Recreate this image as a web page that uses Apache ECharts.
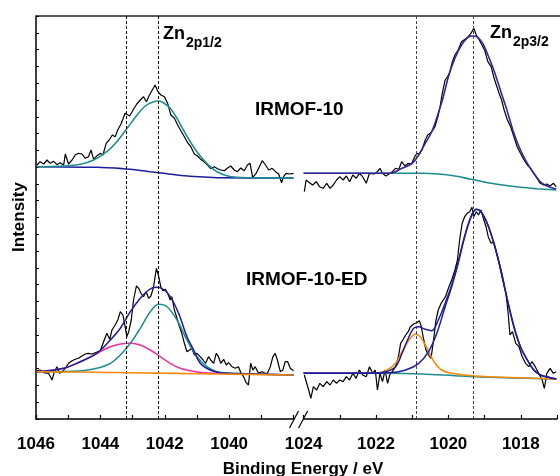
<!DOCTYPE html>
<html><head><meta charset="utf-8">
<script src="https://cdn.jsdelivr.net/npm/echarts@6/dist/echarts.min.js"></script>
<style>html,body{margin:0;padding:0;background:#fff;overflow:hidden}#c{width:560px;height:476px}</style>
</head><body><div id="c"></div>
<script>
// ---------- DATA (binding energy eV, intensity a.u.) ----------
const leftTickLabels = [1046, 1044, 1042, 1040];
const rightTickLabels = [1024, 1022, 1020, 1018];
const peakLinesLeft = [1043.2, 1042.2];
const peakLinesRight = [1020.9, 1019.3];

// IRMOF-10, Zn 2p1/2 region
const topLeftRaw = [[1045.97,254],[1045.87,257.3],[1045.76,255],[1045.66,259],[1045.56,255.7],[1045.45,257.7],[1045.35,254.3],[1045.25,256.3],[1045.14,254],[1045.09,265],[1044.99,255],[1044.88,259],[1044.78,264],[1044.68,265.7],[1044.57,265],[1044.47,260.7],[1044.37,262.3],[1044.29,269],[1044.21,259.7],[1044.11,263],[1044.0,265.7],[1043.92,264],[1043.82,275.7],[1043.71,279.7],[1043.63,284],[1043.54,282.3],[1043.46,289],[1043.36,295],[1043.23,305.7],[1043.09,303],[1042.97,309.7],[1042.87,315],[1042.76,319],[1042.66,322.3],[1042.57,317.3],[1042.49,323],[1042.40,328.3],[1042.30,334],[1042.21,327.3],[1042.12,324],[1042.01,322.3],[1041.91,315.7],[1041.81,304],[1041.70,300.7],[1041.60,294],[1041.50,288.3],[1041.39,282.3],[1041.29,276.3],[1041.19,272.3],[1041.08,265],[1040.98,263],[1040.88,259.7],[1040.77,257],[1040.67,254],[1040.57,250.3],[1040.46,252.3],[1040.36,250.3],[1040.26,249],[1040.15,248.3],[1040.05,251],[1039.95,253],[1039.84,249],[1039.74,247.3],[1039.64,251],[1039.53,248.3],[1039.43,254],[1039.35,255.7],[1039.27,241.7],[1039.16,245.7],[1039.06,252.3],[1038.97,258.3],[1038.87,254],[1038.77,249],[1038.66,250.7],[1038.56,247.3],[1038.46,245],[1038.37,236.3],[1038.31,242.3],[1038.23,245.7],[1038.12,245],[1038.0,245.7]];
const topLeftBg = [[1045.97,252.3],[1044.11,251.7],[1043.28,250.3],[1042.86,249],[1042.45,247.3],[1042.04,245.7],[1041.62,244],[1041.21,242.7],[1040.79,242],[1040.38,241.3],[1038.0,241]];
const topLeftFit = [[1045.97,252.3],[1045.14,253],[1044.62,254.7],[1044.21,259],[1043.80,267.3],[1043.49,277.3],[1043.17,290.7],[1042.86,304],[1042.61,313],[1042.35,317.3],[1042.19,318],[1042.04,316.3],[1041.83,310.7],[1041.62,300.7],[1041.42,289],[1041.21,277.3],[1041.0,267.3],[1040.79,259],[1040.59,252.3],[1040.38,247.3],[1040.07,243.3],[1039.76,241.7],[1039.35,241.3],[1038.0,241]];

// IRMOF-10, Zn 2p3/2 region
const topRightRaw = [[1023.98,227.3],[1023.93,239],[1023.84,236.3],[1023.75,234],[1023.65,237.3],[1023.56,232.3],[1023.46,230.7],[1023.36,235.7],[1023.27,230.7],[1023.18,234],[1023.09,239],[1023.0,242.3],[1022.91,239],[1022.82,243],[1022.73,237.3],[1022.64,244],[1022.55,240.7],[1022.46,245.7],[1022.37,242.3],[1022.27,235.7],[1022.18,245.7],[1022.05,245],[1021.96,247.3],[1021.89,250.7],[1021.82,245.7],[1021.73,243],[1021.64,245],[1021.55,247.3],[1021.46,250.7],[1021.37,249.7],[1021.29,257.3],[1021.20,253],[1021.11,255.7],[1021.02,255],[1020.93,262.3],[1020.87,265.7],[1020.80,265],[1020.73,269],[1020.64,279],[1020.57,284],[1020.50,285.7],[1020.44,288.3],[1020.37,292.3],[1020.29,302.3],[1020.23,312.3],[1020.17,325.7],[1020.09,339],[1020.02,342.3],[1019.96,347.3],[1019.89,357.3],[1019.82,364],[1019.73,369],[1019.64,377.3],[1019.57,379],[1019.50,380.7],[1019.41,384],[1019.35,387.3],[1019.30,390.7],[1019.23,384],[1019.17,380.7],[1019.10,375.7],[1019.0,369],[1018.91,357.3],[1018.82,352.3],[1018.75,342.3],[1018.66,332.3],[1018.60,325.7],[1018.53,319],[1018.46,309],[1018.37,299],[1018.28,292.3],[1018.19,282.3],[1018.10,272.3],[1018.01,265.7],[1017.91,259],[1017.82,254],[1017.73,250.7],[1017.64,245.7],[1017.55,240.7],[1017.46,235.7],[1017.37,234],[1017.28,235],[1017.19,233],[1017.10,235.7],[1017.02,232.3]];
const topRightBg = [[1024.0,245.7],[1020.73,245.7],[1020.28,245],[1019.82,243],[1019.37,239.7],[1018.91,236.3],[1018.46,233.7],[1018.01,231.7],[1017.55,230.3],[1017.02,229]];
const topRightFit = [[1024.0,245.7],[1021.64,245.7],[1021.28,250.7],[1021.0,255.7],[1020.82,264],[1020.64,275.7],[1020.46,287.3],[1020.28,305.7],[1020.14,322.3],[1020.0,342.3],[1019.82,360.7],[1019.64,374],[1019.46,381.7],[1019.32,383],[1019.19,381.7],[1019.05,375.7],[1018.91,364],[1018.73,347.3],[1018.55,327.3],[1018.37,307.3],[1018.19,285.7],[1018.01,269],[1017.82,255.7],[1017.64,245.7],[1017.46,237.3],[1017.28,233],[1017.02,230]];

// IRMOF-10-ED, Zn 2p1/2 region
const bottomLeftRaw = [[1045.97,48.3],[1045.87,49],[1045.76,46.3],[1045.61,45.7],[1045.50,39],[1045.43,47.3],[1045.35,52.3],[1045.27,45.7],[1045.19,47.3],[1045.09,50.7],[1044.99,55.7],[1044.88,58.3],[1044.78,59.7],[1044.68,60.7],[1044.57,63],[1044.47,65],[1044.37,65.7],[1044.26,65],[1044.16,66.3],[1044.0,68.3],[1043.90,77.3],[1043.80,85.7],[1043.71,79.7],[1043.64,89],[1043.54,94],[1043.46,99],[1043.38,107.3],[1043.30,104],[1043.23,92.3],[1043.18,82.3],[1043.12,87.3],[1043.04,99],[1042.97,119],[1042.88,133],[1042.81,130.7],[1042.74,125.7],[1042.66,122.3],[1042.58,127.3],[1042.50,120.7],[1042.43,123],[1042.35,131.7],[1042.26,150.7],[1042.19,143],[1042.12,131.7],[1042.06,128.3],[1041.98,129.7],[1041.91,125.7],[1041.83,119],[1041.78,122.3],[1041.70,109],[1041.62,100.7],[1041.54,92.3],[1041.47,85.7],[1041.39,75.7],[1041.31,67.3],[1041.23,69],[1041.16,70.7],[1041.08,64],[1041.0,65.7],[1040.90,62.3],[1040.81,59],[1040.73,55.7],[1040.64,62.3],[1040.57,59],[1040.48,55.7],[1040.40,65.7],[1040.33,62.3],[1040.26,55.7],[1040.17,59.7],[1040.09,54],[1040.02,56.3],[1039.91,52.3],[1039.81,50.7],[1039.71,52.3],[1039.63,45.7],[1039.55,42.3],[1039.47,36.3],[1039.40,34],[1039.33,55.7],[1039.26,49],[1039.19,52.3],[1039.09,45.7],[1038.98,47.3],[1038.88,45.7],[1038.81,45.7],[1038.72,52.3],[1038.64,62.3],[1038.57,65.7],[1038.50,59],[1038.41,47.3],[1038.33,49],[1038.26,57.3],[1038.18,57.3],[1038.10,50.7],[1038.0,48.3]];
const bottomLeftBg = [[1045.97,47.3],[1043.07,46.3],[1040.38,45],[1038.0,44]];
const bottomLeftPeakA = [[1045.97,47.3],[1045.14,50.7],[1044.62,57.3],[1044.11,65.7],[1043.69,72.3],[1043.38,75],[1043.07,75.7],[1042.76,74],[1042.45,69],[1042.14,62.3],[1041.83,55.7],[1041.52,50.7],[1041.21,48.3],[1040.79,46.3],[1040.38,45.7],[1038.0,44]];
const bottomLeftPeakB = [[1045.97,47.3],[1044.62,48],[1044.11,50.7],[1043.69,55.7],[1043.38,64],[1043.07,75.7],[1042.76,90.7],[1042.45,107.3],[1042.19,114.7],[1041.93,112.3],[1041.62,99],[1041.31,79],[1041.0,62.3],[1040.69,52.3],[1040.38,47.3],[1039.97,45.7],[1038.0,44]];
const bottomLeftEnvelope = [[1045.97,47.3],[1045.14,50.7],[1044.62,57.3],[1044.11,65.7],[1043.69,79],[1043.38,90.7],[1043.07,107.3],[1042.76,120.7],[1042.50,129],[1042.30,131.7],[1042.09,130.7],[1041.83,122.3],[1041.57,105.7],[1041.31,82.3],[1041.10,69],[1040.90,55.7],[1040.59,49],[1040.28,46.3],[1039.97,45.7],[1038.0,44]];

// IRMOF-10-ED, Zn 2p3/2 region
const bottomRightRaw = [[1023.98,44],[1023.86,29],[1023.80,20.7],[1023.73,32.3],[1023.64,29],[1023.55,35.7],[1023.46,32.3],[1023.36,37.3],[1023.27,34],[1023.18,39],[1023.09,35.7],[1023.0,39],[1022.91,37.3],[1022.82,42.3],[1022.73,39],[1022.64,45.7],[1022.55,40.7],[1022.46,49],[1022.37,44],[1022.27,42.3],[1022.18,52.3],[1022.09,45.7],[1022.02,49],[1021.96,29],[1021.89,45.7],[1021.82,37.3],[1021.75,49],[1021.68,35.7],[1021.62,44],[1021.55,47.3],[1021.46,52.3],[1021.38,62.3],[1021.32,75.7],[1021.26,79],[1021.18,84],[1021.11,87.3],[1021.05,92.3],[1020.96,95],[1020.87,96.3],[1020.80,98.3],[1020.75,92.3],[1020.68,79],[1020.62,69],[1020.55,64],[1020.48,60.7],[1020.41,79],[1020.35,97.3],[1020.28,109],[1020.20,115.7],[1020.14,119],[1020.08,122.3],[1020.0,130.7],[1019.91,139],[1019.82,149],[1019.75,159],[1019.69,179],[1019.62,195.7],[1019.55,202.3],[1019.48,205.7],[1019.41,207.3],[1019.35,211.7],[1019.30,202.3],[1019.23,207.3],[1019.17,204],[1019.10,209],[1019.02,199],[1018.96,192.3],[1018.90,182.3],[1018.82,175.7],[1018.75,177.3],[1018.69,169],[1018.60,155.7],[1018.50,139],[1018.41,125.7],[1018.35,105.7],[1018.30,84],[1018.23,87.3],[1018.14,75.7],[1018.05,72.3],[1017.96,62.3],[1017.87,55.7],[1017.78,52.3],[1017.69,57.3],[1017.60,52.3],[1017.51,45.7],[1017.41,39],[1017.35,30.7],[1017.28,45.7],[1017.19,50.7],[1017.10,45.7],[1017.02,47.3]];
const bottomRightBg = [[1024.0,45.7],[1021.64,45.7],[1020.73,45],[1019.82,43.3],[1019.28,42.3],[1018.46,41.3],[1017.02,40]];
const bottomRightPeakA = [[1024.0,45.7],[1022.09,45.7],[1021.73,48.3],[1021.46,55.7],[1021.28,67.3],[1021.09,79],[1020.91,85],[1020.78,82.3],[1020.64,74],[1020.50,64],[1020.37,55.7],[1020.19,49],[1019.91,45.7],[1019.28,43],[1018.01,41.3],[1017.02,40]];
const bottomRightPeakB = [[1024.0,45.7],[1021.64,46.3],[1021.18,49],[1020.82,55.7],[1020.55,67.3],[1020.32,85.7],[1020.09,112.3],[1019.91,132.3],[1019.73,155.7],[1019.55,182.3],[1019.37,202.3],[1019.23,209.7],[1019.10,207.3],[1018.91,194],[1018.73,174],[1018.55,149],[1018.37,119],[1018.19,92.3],[1018.01,72.3],[1017.82,59],[1017.64,49],[1017.46,44],[1017.19,41.3],[1017.02,40]];
const bottomRightEnvelope = [[1024.0,45.7],[1022.09,45.7],[1021.73,47.3],[1021.46,52.3],[1021.28,65.7],[1021.09,82.3],[1020.96,90.7],[1020.82,92.3],[1020.64,89.7],[1020.46,88.3],[1020.28,99],[1020.09,115.7],[1019.91,134],[1019.73,157.3],[1019.55,183],[1019.37,203],[1019.23,209.7],[1019.10,207.3],[1018.91,194],[1018.73,174],[1018.55,149],[1018.37,119],[1018.19,92.3],[1018.01,72.3],[1017.82,59],[1017.64,49],[1017.46,44],[1017.19,41.3],[1017.02,40]];

// ---------- CHART ----------
const FONT = '"Liberation Sans", Arial, sans-serif';
const C = { raw:'#000000', navy:'#1d1d9e', teal:'#1e8c8f', pink:'#f0309c', orange:'#f7890f', purple:'#3a22a0' };
const Y_MAX = 403, Y_STEP = 403 / 24;

const chart = echarts.init(document.getElementById('c'), null, { renderer: 'canvas' });

function ser(data, color, width, g, z, smooth) {
  return { type:'line', xAxisIndex:g, yAxisIndex:g, data, symbol:'none', showSymbol:false,
    smooth: smooth ? 0.35 : false, lineStyle:{ color, width }, z, silent:true };
}
function dashLines(vals, color) {
  return { silent:true, symbol:['none','none'], label:{show:false},
    lineStyle:{ color, type:[3,2], width:1 }, data: vals.map(v => ({ xAxis: v })) };
}
const xAxisCommon = {
  type:'value', inverse:true, interval:1,
  axisLine:{ show:true, lineStyle:{ color:'#000', width:1.5 } },
  axisTick:{ inside:true, length:4, lineStyle:{ color:'#000', width:1.2 } },
  splitLine:{ show:false },
};

const rawTL = ser(topLeftRaw, C.raw, 1.2, 0, 2, false);
rawTL.markLine = dashLines(peakLinesLeft, '#000');
const rawTR = ser(topRightRaw, C.raw, 1.2, 1, 2, false);
rawTR.markLine = dashLines(peakLinesRight, '#444');

const option = {
  animation:false,
  grid:[
    { left:36, top:16, width:257.5, height:403 },
    { left:303.6, top:16, width:256.9, height:403 }
  ],
  xAxis:[
    Object.assign({}, xAxisCommon, { gridIndex:0, min:1038, max:1046,
      axisLabel:{ formatter: v => leftTickLabels.includes(v) ? String(v) : '', fontSize:17, fontWeight:'bold', color:'#000', fontFamily:FONT, margin:17, showMinLabel:true, showMaxLabel:true } }),
    Object.assign({}, xAxisCommon, { gridIndex:1, min:1017, max:1024,
      axisLabel:{ formatter: v => rightTickLabels.includes(v) ? String(v) : '', fontSize:17, fontWeight:'bold', color:'#000', fontFamily:FONT, margin:17, showMinLabel:true, showMaxLabel:true } })
  ],
  yAxis:[
    { gridIndex:0, type:'value', min:0, max:Y_MAX, interval:Y_STEP,
      axisLine:{ show:true, lineStyle:{ color:'#000', width:1.5 } },
      axisTick:{ show:true, inside:true, length:3, lineStyle:{ color:'#000', width:1 } },
      axisLabel:{ show:false }, splitLine:{ show:false } },
    { gridIndex:1, type:'value', min:0, max:Y_MAX, show:false, splitLine:{ show:false } }
  ],
  series:[
    rawTL,
    ser(topLeftBg, C.navy, 1.6, 0, 3, true),
    ser(topLeftFit, C.teal, 1.6, 0, 4, true),
    rawTR,
    ser(topRightBg, C.teal, 1.6, 1, 3, true),
    ser(topRightFit, C.purple, 1.6, 1, 4, true),
    ser(bottomLeftRaw, C.raw, 1.2, 0, 2, false),
    ser(bottomLeftPeakA, C.pink, 1.5, 0, 3, true),
    ser(bottomLeftPeakB, C.teal, 1.5, 0, 3, true),
    ser(bottomLeftEnvelope, C.navy, 1.5, 0, 4, true),
    ser(bottomLeftBg, C.orange, 1.6, 0, 5, true),
    ser(bottomRightRaw, C.raw, 1.2, 1, 2, false),
    ser(bottomRightBg, C.teal, 1.5, 1, 3, true),
    ser(bottomRightPeakA, C.orange, 1.6, 1, 4, true),
    ser(bottomRightPeakB, C.navy, 1.5, 1, 4, true),
    ser(bottomRightEnvelope, C.navy, 1.5, 1, 5, true)
  ]
};
chart.setOption(option);

// decorations: top frame, axis break, titles and labels
const pL = chart.convertToPixel({ gridIndex:0 }, [1038, 0]);
const pR = chart.convertToPixel({ gridIndex:1 }, [1024, 0]);
const pTop = chart.convertToPixel({ gridIndex:0 }, [1046, Y_MAX]);
const txt = (text, x, y, size, extra) => Object.assign({ type:'text', x, y, silent:true,
  style:{ text, fontSize:size, fontWeight:'bold', fontFamily:FONT, fill:'#000', align:'left', verticalAlign:'middle' } }, extra || {});
chart.setOption({ graphic:[
  { type:'line', silent:true, shape:{ x1:pTop[0], y1:pTop[1], x2:560, y2:pTop[1] }, style:{ stroke:'#222', lineWidth:1.5 } },
  { type:'rect', silent:true, shape:{ x:pL[0]+0.5, y:pL[1]-3, width:pR[0]-pL[0]-1, height:6 }, style:{ fill:'#fff' } },
  { type:'line', silent:true, shape:{ x1:pL[0]-4, y1:pL[1]+9, x2:pL[0]+5, y2:pL[1]-8 }, style:{ stroke:'#000', lineWidth:1.2 } },
  { type:'line', silent:true, shape:{ x1:pR[0]-5, y1:pR[1]+9, x2:pR[0]+4, y2:pR[1]-8 }, style:{ stroke:'#000', lineWidth:1.2 } },
  txt('Intensity', 19, 217, 17, { rotation: Math.PI/2, style:{ text:'Intensity', fontSize:17, fontWeight:'bold', fontFamily:FONT, fill:'#000', align:'center', verticalAlign:'middle' } }),
  txt('Binding Energy / eV', 303, 469, 17, { style:{ text:'Binding Energy / eV', fontSize:17, fontWeight:'bold', fontFamily:FONT, fill:'#000', align:'center', verticalAlign:'middle' } }),
  txt('Zn', 163, 34, 18),
  txt('2p1/2', 186, 43, 14),
  txt('Zn', 490, 33, 18),
  txt('2p3/2', 513, 42, 14),
  txt('IRMOF-10', 255, 110, 19),
  txt('IRMOF-10-ED', 246, 280, 19)
]});
</script>
</body></html>
